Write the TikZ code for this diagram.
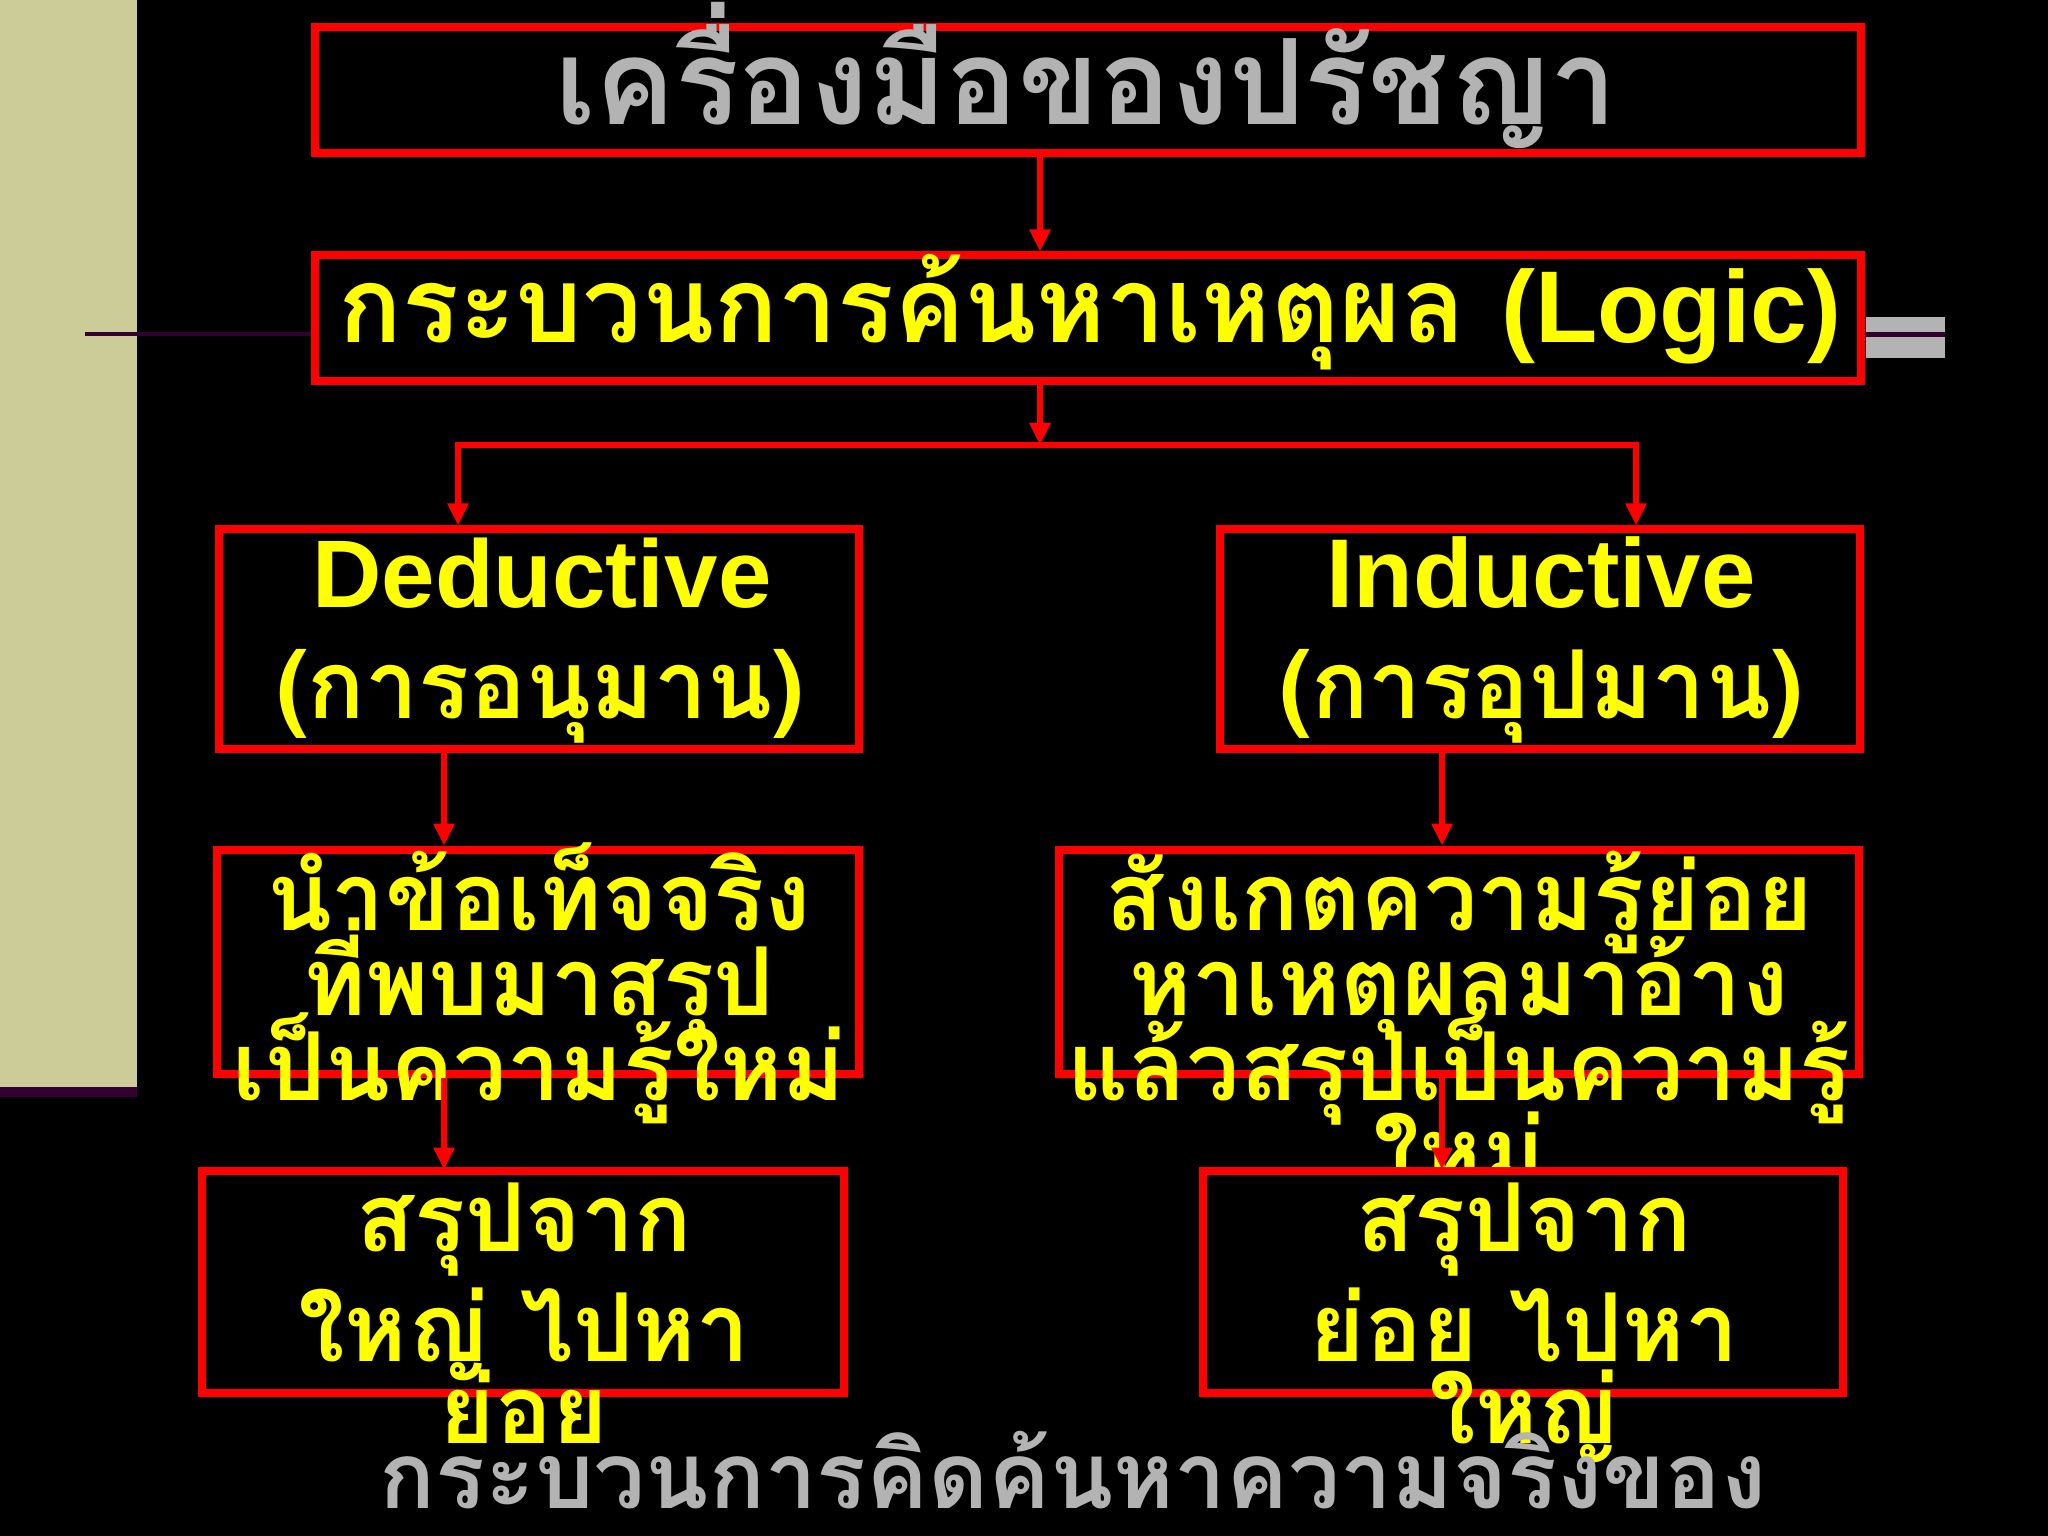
\documentclass[tikz,border=0pt]{standalone}
\usepackage{fontspec}
\usetikzlibrary{arrows.meta}
\newfontfamily\thaifont[Script=Thai]{Loma}
\newfontfamily\latinfont{Liberation Sans}
\definecolor{boxred}{RGB}{255,0,0}
\definecolor{hiyellow}{RGB}{255,255,0}
\definecolor{titlegray}{RGB}{179,179,179}
\definecolor{sidebeige}{RGB}{204,204,153}
\definecolor{darkplum}{RGB}{51,0,51}
\tikzset{
  box/.style={draw=boxred, line width=0.08cm, fill=black, inner sep=0pt},
  link/.style={draw=boxred, line width=0.06cm, -{Triangle[width=0.2cm,length=0.22cm]}},
  ytext/.style={text=hiyellow, anchor=base, inner sep=0pt,
    font=\thaifont\bfseries\fontsize{27}{27}\selectfont},
  gtext/.style={text=titlegray, anchor=base, inner sep=0pt,
    font=\thaifont\bfseries\fontsize{33.8}{34}\selectfont},
}

\begin{document}
\begin{tikzpicture}[x=0.01cm, y=-0.01cm]
\useasboundingbox (0,0) rectangle (2048,1536);
\fill[black] (0,0) rectangle (2048,1536);

% side bar
\fill[sidebeige] (0,0) rectangle (137,1087);
\fill[darkplum] (0,1087) rectangle (137,1097);
\fill[titlegray] (1866,317) rectangle (1945,358);

% top two boxes
\node[box, minimum width=15.45cm, minimum height=1.25cm] (title) at (1088,90) {};
\node[gtext] (titletxt) at (1086,124) {เครื่องมือของปรัชญา};

\node[box, minimum width=15.45cm, minimum height=1.25cm] (logic) at (1088,318) {};
\node[ytext, font=\thaifont\bfseries\fontsize{30}{30}\selectfont] (logictxt) at (1090,342)
  {กระบวนการค้นหาเหตุผล {\latinfont\bfseries\fontsize{29}{29}\selectfont(Logic)}};

\coordinate (plumL) at (85,334);
\coordinate (plumR) at (1945,334);
\draw[darkplum, line width=0.045cm] (plumL) -- (logic.west |- plumL);
\draw[darkplum, line width=0.05cm] (logic.east |- plumR) -- (plumR);

\coordinate (mid) at (1040,445);
\coordinate (forkL) at (458,445);
\coordinate (forkR) at (1636,445);
\draw[link] (title.south -| mid) -- (logic.north -| mid);
\draw[link] (logic.south -| mid) -- (mid);

% deductive / inductive
\node[box, minimum width=6.39cm, minimum height=2.19cm] (ded) at (539,639) {};
\node[box, minimum width=6.39cm, minimum height=2.19cm] (ind) at (1540,639) {};
\draw[link] (forkR) -- (forkL) -- (forkL |- ded.north);
\draw[link] (forkL) -- (forkR) -- (forkR |- ind.north);

\node[ytext, font=\latinfont\bfseries\fontsize{27.3}{27}\selectfont] (dedtxt) at (542,607) {Deductive};
\node[ytext] (dedthai) at (540,718) {(การอนุมาน)};
\node[ytext, font=\latinfont\bfseries\fontsize{27.8}{27}\selectfont] (indtxt) at (1541,607) {Inductive};
\node[ytext] (indthai) at (1541,718) {(การอุปมาน)};

% second row
\coordinate (colL) at (444,0);
\coordinate (colR) at (1442,0);
\draw[link] (ded.south -| colL) -- ++(0,93);
\draw[link] (ind.south -| colR) -- ++(0,93);

\node[box, minimum width=6.41cm, minimum height=2.23cm] (fact) at (538,962) {};
\node[box, minimum width=8.00cm, minimum height=2.23cm] (observe) at (1459,962) {};

\node[ytext] (fact1) at (539,930) {นำข้อเท็จจริง};
\node[ytext] (fact2) at (539,1015) {ที่พบมาสรุป};
\node[ytext] (fact3) at (539,1100) {เป็นความรู้ใหม่};

\node[ytext] (obs1) at (1459,930) {สังเกตความรู้ย่อย};
\node[ytext] (obs2) at (1459,1015) {หาเหตุผลมาอ้าง};
\node[ytext] (obs3) at (1459,1100) {แล้วสรุปเป็นความรู้};
\node[ytext] (obs4) at (1459,1185) {ใหม่};

\draw[link] (fact.south -| colL) -- ++(0,92);
\draw[link] (observe.south -| colR) -- ++(0,92);

% third row
\node[box, minimum width=6.41cm, minimum height=2.21cm] (bigsmall) at (523,1282) {};
\node[box, minimum width=6.40cm, minimum height=2.21cm] (smallbig) at (1523,1282) {};

\node[ytext] (bs1) at (524,1251) {สรุปจาก};
\node[ytext] (bs2) at (524,1361) {ใหญ่ ไปหา};
\node[ytext] (bs3) at (524,1443) {ย่อย};

\node[ytext] (sb1) at (1524,1251) {สรุปจาก};
\node[ytext] (sb2) at (1524,1361) {ย่อย ไปหา};
\node[ytext] (sb3) at (1524,1443) {ใหญ่};

% caption
\node[gtext, font=\thaifont\bfseries\fontsize{26.3}{27}\selectfont] (caption) at (1073,1508)
  {กระบวนการคิดค้นหาความจริงของ};
\end{tikzpicture}
\end{document}
